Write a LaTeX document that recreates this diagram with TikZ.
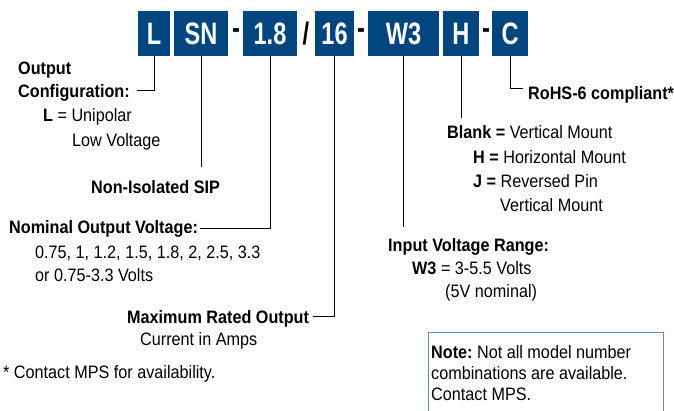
\documentclass[tikz,border=0pt]{standalone}
\usepackage{fontspec}
\setmainfont[FakeStretch=0.9]{Liberation Sans}
\newfontfamily\codefont[FakeStretch=0.76]{Liberation Sans}
\definecolor{boxblue}{HTML}{00457E}
\definecolor{noteborder}{HTML}{7088AA}
\tikzset{
  codebox/.style={fill=boxblue, text=white, font=\codefont\fontsize{31}{31}\selectfont\bfseries, minimum height=45pt, inner sep=0pt, anchor=center},
  sep/.style={font=\codefont\fontsize{31}{31}\selectfont\bfseries, inner sep=0pt, anchor=center},
  lbl/.style={font=\fontsize{18}{20}\selectfont, inner sep=0pt, anchor=base west},
  blbl/.style={font=\fontsize{18}{20}\selectfont\bfseries, inner sep=0pt, anchor=base west},
  conn/.style={draw=black, line width=0.9pt},
}
\begin{document}
\begin{tikzpicture}[x=1pt, y=-1pt]
\useasboundingbox (0,0) rectangle (674,410);
\clip (0,0) rectangle (674,410);
% code boxes
\node[codebox, minimum width=32pt] (bL) at (154,33.5) {L};
\node[codebox, minimum width=54pt] (bSN) at (201,33.5) {SN};
\node[sep] (s1) at (236,33.5) {-};
\node[codebox, minimum width=54pt] (bV) at (270,33.5) {1.8};
\node[sep] (s2) at (306,33.5) {/};
\node[codebox, minimum width=39pt] (bI) at (334.5,33.5) {16};
\node[sep] (s3) at (361,33.5) {-};
\node[codebox, minimum width=71pt] (bW) at (403.5,33.5) {W3};
\node[codebox, minimum width=36pt] (bH) at (461,33.5) {H};
\node[sep] (s4) at (486,33.5) {-};
\node[codebox, minimum width=36pt] (bC) at (510,33.5) {C};

% labels
\node[blbl] (t1) at (18,74) {Output};
\node[blbl] (t2) at (18,97) {Configuration:};
\node[lbl] (t3) at (43,121) {\textbf{L} = Unipolar};
\node[lbl] (t4) at (72,146) {Low Voltage};
\node[blbl] (t5) at (91,193) {Non-Isolated SIP};
\node[blbl] (t6) at (9,233) {Nominal Output Voltage:};
\node[lbl] (t7) at (35,258) {0.75, 1, 1.2, 1.5, 1.8, 2, 2.5, 3.3};
\node[lbl] (t8) at (35,281) {or 0.75-3.3 Volts};
\node[blbl] (t9) at (127,323) {Maximum Rated Output};
\node[lbl] (t10) at (140,345) {Current in Amps};
\node[lbl] (t11) at (3,378) {* Contact MPS for availability.};
\node[blbl] (t12) at (528,99) {RoHS-6 compliant*};
\node[lbl] (t13) at (447,138) {\textbf{Blank =} Vertical Mount};
\node[lbl] (t14) at (473,163) {\textbf{H =} Horizontal Mount};
\node[lbl] (t15) at (473,187) {\textbf{J =} Reversed Pin};
\node[lbl] (t16) at (500,211) {Vertical Mount};
\node[blbl] (t17) at (388,251) {Input Voltage Range:};
\node[lbl] (t18) at (412,274) {\textbf{W3} = 3-5.5 Volts};
\node[lbl] (t19) at (445,297) {(5V nominal)};

% note box
\draw[noteborder, line width=0.9pt] (428,332) rectangle (663,420);
\node[lbl] (n1) at (431,358) {\textbf{Note:}\ Not all model number};
\node[lbl] (n2) at (431,379) {combinations are available.};
\node[lbl] (n3) at (431,400) {Contact MPS.};

% connector ends
\coordinate (eL) at (137,90);
\coordinate (eSN) at (200,167);
\coordinate (eV) at (200,228);
\coordinate (eI) at (313,316);
\coordinate (eW) at (404,227);
\coordinate (eH) at (462,118);
\coordinate (eC) at (523,88);

\draw[conn] (bL.south) |- (eL);
\draw[conn] (bSN.south) -- (bSN.south |- eSN);
\draw[conn] (bV.south) |- (eV);
\draw[conn] (bI.south) |- (eI);
\draw[conn] (bW.south) -- (bW.south |- eW);
\draw[conn] (bH.south) -- (bH.south |- eH);
\draw[conn] (bC.south) |- (eC);
\end{tikzpicture}
\end{document}
